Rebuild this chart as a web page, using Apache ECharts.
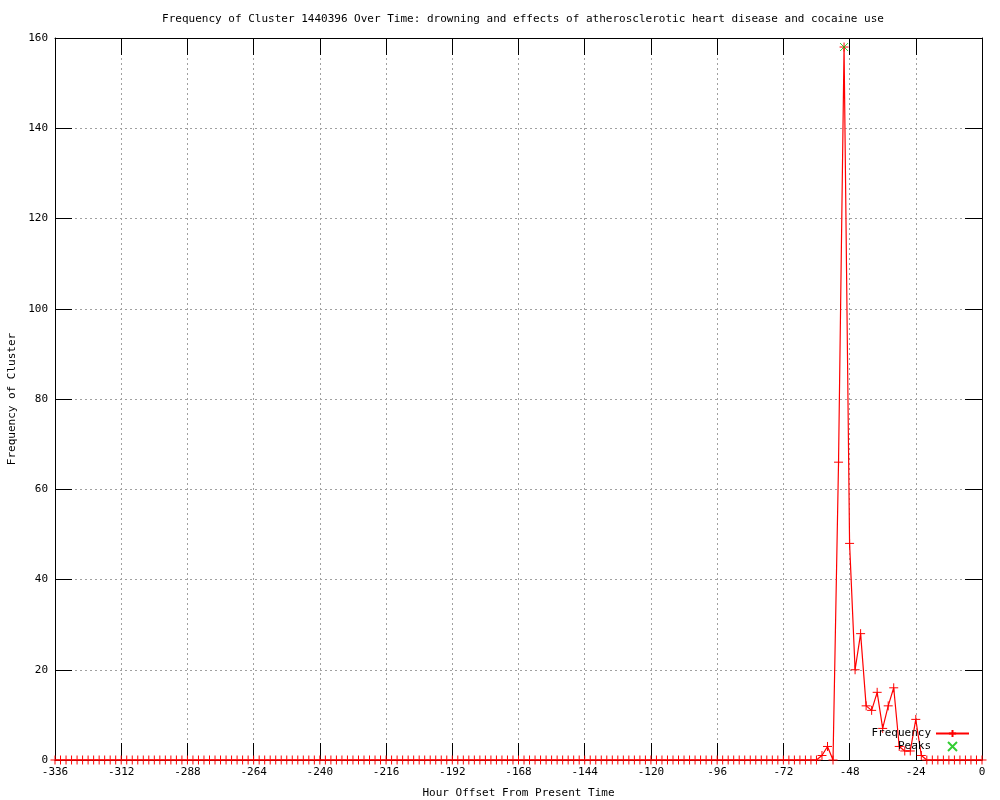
<!DOCTYPE html>
<html>
<head>
<meta charset="utf-8">
<script src="https://cdn.jsdelivr.net/npm/echarts@6/dist/echarts.min.js"></script>
<style>html,body{margin:0;padding:0;background:#fff}#c{width:1000px;height:800px}</style>
</head>
<body>
<div id="c"></div>
<script>
// Sample grid: hour offsets from -336 to 0, one sample every 2 hours
const startHour = -336;
const stepHours = 2;
// Frequency per sample (169 samples, oldest first)
const frequency = [
  0,0,0,0,0,0,0,0,0,0, 0,0,0,0,0,0,0,0,0,0,
  0,0,0,0,0,0,0,0,0,0, 0,0,0,0,0,0,0,0,0,0,
  0,0,0,0,0,0,0,0,0,0, 0,0,0,0,0,0,0,0,0,0,
  0,0,0,0,0,0,0,0,0,0, 0,0,0,0,0,0,0,0,0,0,
  0,0,0,0,0,0,0,0,0,0, 0,0,0,0,0,0,0,0,0,0,
  0,0,0,0,0,0,0,0,0,0, 0,0,0,0,0,0,0,0,0,0,
  0,0,0,0,0,0,0,0,0,0, 0,0,0,0,0,0,0,0,0,
  1,3,0,66,158,48,20,28,12,11,15,7,12,16,3,2,2,9,1,
  0,0,0,0,0,0,0,0,0,0,0
];
const peakHours = [-50];
const peakValues = [158];
const xTicks = {min: -336, max: 0, interval: 24};
const yTicks = {min: 0, max: 160, interval: 20};
const titleText = 'Frequency of Cluster 1440396 Over Time: drowning and effects of atherosclerotic heart disease and cocaine use';
const xName = 'Hour Offset From Present Time';
const yName = 'Frequency of Cluster';

const freqData = frequency.map((v, i) => [startHour + i * stepHours, v]);
const peakData = peakHours.map((h, i) => [h, peakValues[i]]);

const FONT = 'DejaVu Sans Mono';
const txt = {fontFamily: FONT, fontSize: 11, color: '#000'};
const plusPath = 'path://M0,4.5L9,4.5M4.5,0L4.5,9';
const crossIcon = 'path://M0,4.5L0,4.5M12,0L21,9M12,9L21,0M33,4.5L33,4.5';
const crossSym = 'path://M0,0L8,8M0,8L8,0';

const gridLine = {show: true, lineStyle: {color: '#a0a0a0', width: 1, type: [2, 3]}};
const tick = {show: true, inside: true, length: 17, lineStyle: {color: '#000', width: 1}};
const axLine = {show: true, onZero: false, lineStyle: {color: '#000', width: 1}};

const chart = echarts.init(document.getElementById('c'), null, {renderer: 'canvas'});
chart.setOption({
  animation: false,
  backgroundColor: '#fff',
  title: {
    text: titleText, left: 518, top: 9, textAlign: 'center',
    textStyle: Object.assign({fontWeight: 'normal'}, txt)
  },
  grid: {left: 55, right: 18, top: 38, bottom: 40, containLabel: false, outerBoundsMode: 'none'},
  legend: [
    {data: ['Frequency'], right: 30, top: 728, orient: 'horizontal', align: 'right',
     itemWidth: 33, itemHeight: 9, padding: 0, textStyle: txt},
    {data: [{name: 'Peaks', icon: crossIcon}], right: 30, top: 741, orient: 'horizontal', align: 'right',
     itemWidth: 33, itemHeight: 9, padding: 0, textStyle: txt}
  ],
  xAxis: [
    {type: 'value', min: xTicks.min, max: xTicks.max, interval: xTicks.interval, position: 'bottom',
     name: xName, nameLocation: 'middle', nameGap: 28, nameTextStyle: txt,
     axisLine: axLine, axisTick: tick, splitLine: gridLine,
     axisLabel: Object.assign({margin: 7}, txt)},
    {type: 'value', min: xTicks.min, max: xTicks.max, interval: xTicks.interval, position: 'top',
     axisLine: axLine, axisTick: tick, splitLine: {show: false}, axisLabel: {show: false}}
  ],
  yAxis: [
    {type: 'value', min: yTicks.min, max: yTicks.max, interval: yTicks.interval, position: 'left',
     name: yName, nameLocation: 'middle', nameGap: 35, nameTextStyle: txt,
     axisLine: axLine, axisTick: tick, splitLine: gridLine,
     axisLabel: Object.assign({margin: 7}, txt)},
    {type: 'value', min: yTicks.min, max: yTicks.max, interval: yTicks.interval, position: 'right',
     axisLine: axLine, axisTick: tick, splitLine: {show: false}, axisLabel: {show: false}}
  ],
  series: [
    {name: 'Frequency', type: 'line', xAxisIndex: 0, yAxisIndex: 0, data: freqData,
     symbol: plusPath, symbolSize: 9, showSymbol: true, showAllSymbol: true,
     lineStyle: {color: '#ff0000', width: 1.2},
     itemStyle: {color: '#ff0000', borderColor: '#ff0000', borderWidth: 1},
     emphasis: {disabled: true}, z: 3},
    {name: 'Peaks', type: 'scatter', xAxisIndex: 0, yAxisIndex: 0, data: peakData,
     symbol: crossSym, symbolSize: 8,
     itemStyle: {color: '#00c000', borderColor: '#00c000', borderWidth: 1},
     emphasis: {disabled: true}, z: 4}
  ]
});
</script>
</body>
</html>
